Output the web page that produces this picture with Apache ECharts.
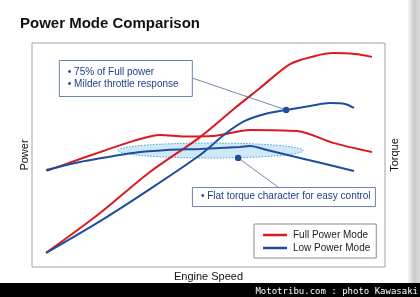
<!DOCTYPE html>
<html>
<head>
<meta charset="utf-8">
<script src="https://cdn.jsdelivr.net/npm/echarts@6/dist/echarts.min.js"></script>
<style>html,body{margin:0;padding:0;background:#fff}#c{width:420px;height:297px}</style>
</head>
<body>
<div id="c"></div>
<script>
// Engine speed (relative, 0-100) and output (relative, 0-100)
const fullPowerSpeed = [4, 19.3, 33.4, 47.6, 57.5, 64.6, 73.1, 80.2, 85.3, 91.5, 96.3];
const fullPower      = [6.3, 24.1, 42.4, 58.0, 71.0, 79.9, 90.6, 94.2, 95.5, 95.1, 93.8];
const fullTorqueSpeed = [4.2, 13.6, 19.3, 28.6, 36.3, 43.3, 51.3, 61.8, 75.1, 85.3, 96.3];
const fullTorque      = [42.9, 48.2, 51.3, 56.2, 58.9, 58.3, 58.5, 61.2, 60.7, 55.4, 51.3];
const lowPowerSpeed = [4, 19.3, 33.4, 47.6, 54.7, 60.3, 66.0, 72.0, 78.8, 84.4, 88.7, 91.2];
const lowPower      = [6.3, 20.5, 34.8, 50.0, 59.4, 65.2, 68.3, 70.1, 71.9, 73.2, 72.8, 71.0];
const lowTorqueSpeed = [4, 13.6, 19.3, 28.6, 38.2, 47.6, 58.9, 61.8, 66.6, 75.9, 91.2];
const lowTorque      = [43.3, 46.9, 48.5, 50.9, 52.2, 52.7, 53.6, 54.0, 52.2, 48.7, 42.9];

const seriesNames = ['Full Power Mode', 'Low Power Mode'];
const noteTexts = [['• 75% of Full power', '• Milder throttle response'], ['• Flat torque character for easy control']];
// annotation anchors in data units
const noteDot   = [[72.0, 70.1], [58.4, 48.7]];
const noteBox   = [[7.6, 92.4], [45.3, 35.7]];
const noteLeaderEnd = [[45.3, 84.4], [69.7, 35.7]];
const flatZone = [50.6, 52.0, 26.2, 3.35]; // cx, cy, rx, ry

const zip = (xs, ys) => xs.map((x, i) => [x, ys[i]]);
const RED = '#dc1820', BLUE = '#1d4e9e';
const FONT = 'Liberation Sans, Arial, sans-serif';

const chart = echarts.init(document.getElementById('c'), null, {renderer: 'canvas'});
const boxSize = [[133, 36], [183, 19]];
const lineCommon = {type: 'line', smooth: 0.3, showSymbol: false, z: 3};

chart.setOption({
  animation: false,
  backgroundColor: '#fff',
  title: {
    text: 'Power Mode Comparison', left: 20, top: 16, padding: 0,
    textStyle: {fontFamily: FONT, fontSize: 15, fontWeight: 'bold', color: '#111'}
  },
  grid: {left: 32, right: 35, top: 43, bottom: 30, show: true, borderColor: '#a4a4a4', borderWidth: 1, backgroundColor: '#fff'},
  legend: {
    data: seriesNames, orient: 'vertical', left: 254, top: 224,
    icon: 'rect', itemWidth: 24, itemHeight: 2.5, itemGap: 1, itemStyle: {borderWidth: 0},
    padding: [5, 6, 4, 9], borderColor: '#8a8a8a', borderWidth: 1, backgroundColor: '#fff',
    textStyle: {fontFamily: FONT, fontSize: 10, color: '#222', lineHeight: 12, padding: [0, 0, 0, 1]}
  },
  xAxis: {
    type: 'value', min: 0, max: 100, name: 'Engine Speed', nameLocation: 'middle', nameGap: 4,
    nameTextStyle: {fontFamily: FONT, fontSize: 11, color: '#111', verticalAlign: 'top'},
    axisLine: {show: false}, axisTick: {show: false}, axisLabel: {show: false}, splitLine: {show: false}
  },
  yAxis: [{
    type: 'value', min: 0, max: 100, name: 'Power', nameLocation: 'middle', nameGap: 2, nameRotate: 90,
    nameTextStyle: {fontFamily: FONT, fontSize: 11, color: '#111'},
    axisLine: {show: false}, axisTick: {show: false}, axisLabel: {show: false}, splitLine: {show: false}
  }, {
    type: 'value', min: 0, max: 100, position: 'right', name: 'Torque', nameLocation: 'middle', nameGap: 4, nameRotate: 90,
    nameTextStyle: {fontFamily: FONT, fontSize: 11, color: '#111'},
    axisLine: {show: false}, axisTick: {show: false}, axisLabel: {show: false}, splitLine: {show: false}
  }],
  graphic: [
    {type: 'rect', right: 0, top: 0, shape: {width: 12, height: 284}, style: {fill: new echarts.graphic.LinearGradient(0, 0, 1, 0, [{offset: 0, color: '#f6f6f6'}, {offset: 0.5, color: '#cacaca'}, {offset: 1, color: '#dadada'}])}, z: 0},
    {type: 'rect', left: 0, bottom: 0, shape: {width: 420, height: 14}, style: {fill: '#000'}, z: 10},
    {type: 'text', right: 2, bottom: 1, style: {text: 'Mototribu.com : photo Kawasaki', fill: '#fff', font: '9px DejaVu Sans Mono, monospace'}, z: 11}
  ],
  series: [
    {
      type: 'custom', name: 'zone', silent: true, z: 1, data: [flatZone],
      renderItem: (params, api) => {
        const c = api.coord([api.value(0), api.value(1)]);
        const e = api.coord([api.value(0) + api.value(2), api.value(1) + api.value(3)]);
        return {type: 'ellipse', shape: {cx: c[0], cy: c[1], rx: e[0] - c[0], ry: c[1] - e[1]},
          style: {fill: 'rgba(176,216,242,0.6)', stroke: '#3aa9d6', lineWidth: 1, lineDash: [1.5, 1.5]}};
      }
    },
    Object.assign({name: seriesNames[0], data: zip(fullPowerSpeed, fullPower), lineStyle: {color: RED, width: 2}, itemStyle: {color: RED}}, lineCommon),
    Object.assign({name: seriesNames[0], data: zip(fullTorqueSpeed, fullTorque), lineStyle: {color: RED, width: 2}, itemStyle: {color: RED}}, lineCommon),
    Object.assign({name: seriesNames[1], data: zip(lowPowerSpeed, lowPower), lineStyle: {color: BLUE, width: 2}, itemStyle: {color: BLUE}}, lineCommon),
    Object.assign({name: seriesNames[1], data: zip(lowTorqueSpeed, lowTorque), lineStyle: {color: BLUE, width: 2}, itemStyle: {color: BLUE}}, lineCommon),
    {
      type: 'custom', name: 'notes', silent: true, z: 5, data: noteDot.map((d, i) => [d[0], d[1], i]),
      renderItem: (params, api) => {
        const i = api.value(2);
        const dot = api.coord([api.value(0), api.value(1)]);
        const le = api.coord(noteLeaderEnd[i]);
        const b = api.coord(noteBox[i]);
        const [w, h] = boxSize[i];
        const lines = noteTexts[i];
        const children = [
          {type: 'line', shape: {x1: dot[0], y1: dot[1], x2: le[0], y2: le[1]}, style: {stroke: '#4d6a9c', lineWidth: 0.8}},
          {type: 'circle', shape: {cx: dot[0], cy: dot[1], r: 3.2}, style: {fill: BLUE}},
          {type: 'rect', shape: {x: b[0] + 0.5, y: b[1] + 0.5, width: w, height: h}, style: {fill: '#fff', stroke: '#6880b4', lineWidth: 1}}
        ];
        lines.forEach((t, k) => children.push({type: 'text', style: {text: t, x: b[0] + 9, y: b[1] + h / 2 + (k - (lines.length - 1) / 2) * 12.5, fill: '#1f3f8a', fontSize: 10, fontFamily: FONT, verticalAlign: 'middle'}}));
        return {type: 'group', children};
      }
    }
  ]
});
</script>
</body>
</html>
